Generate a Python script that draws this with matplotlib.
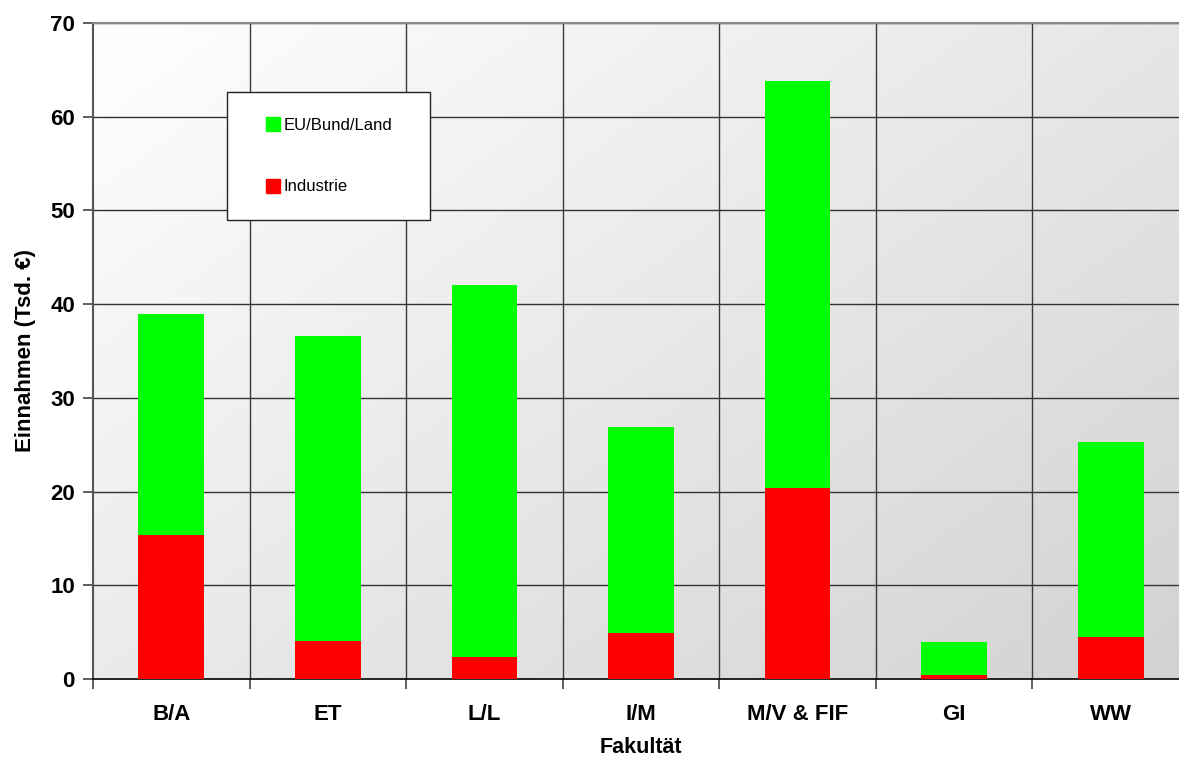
import numpy as np
import matplotlib
matplotlib.use("Agg")
import matplotlib.pyplot as plt
from matplotlib.lines import Line2D

plt.rcParams['font.family'] = ['Liberation Sans', 'DejaVu Sans']

categories = ["B/A", "ET", "L/L", "I/M", "M/V & FIF", "GI", "WW"]
industrie = [15.4, 4.0, 2.3, 4.9, 20.4, 0.4, 4.5]
eu_bund_land_total = [38.9, 36.6, 42.0, 26.9, 63.8, 3.95, 25.3]
eu_bund_land = [t - i for t, i in zip(eu_bund_land_total, industrie)]
yticks = [0, 10, 20, 30, 40, 50, 60, 70]

green = "#00ff00"
red = "#ff0000"

fig = plt.figure(figsize=(11.79, 7.60), dpi=100)
ax = fig.add_axes([0.0789, 0.1066, 1.0085 - 0.0789, 0.8632])

n = len(categories)
x = np.arange(n) + 0.5

# diagonal light-grey gradient background
gx, gy = np.meshgrid(np.linspace(0, 1, 300), np.linspace(0, 1, 200))
grad = (gx * 0.55 + gy * 0.45)
cmap = matplotlib.colors.LinearSegmentedColormap.from_list("bg", ["#ffffff", "#d2d2d2"])
ax.imshow(grad, cmap=cmap, extent=[0, n, 0, 70], origin="upper",
          aspect="auto", zorder=0, interpolation="bilinear")

ax.bar(x, industrie, width=0.42, color=red, zorder=3, label="Industrie")
ax.bar(x, eu_bund_land, width=0.42, bottom=industrie, color=green, zorder=3,
       label="EU/Bund/Land")

ax.set_xlim(0, n)
ax.set_ylim(0, 70)
ax.set_yticks(yticks)
ax.set_yticklabels([str(v) for v in yticks], fontsize=16, fontweight="bold")
ax.set_xticks(x)
ax.set_xticklabels(categories, fontsize=16, fontweight="bold")
ax.set_xticks(np.arange(n + 1), minor=True)
ax.tick_params(axis="x", which="major", length=0, pad=18)
ax.tick_params(axis="x", which="minor", length=7, width=1.2, color="#444444", direction="out")
ax.tick_params(axis="y", which="major", length=7, width=1.2, color="#444444", pad=6)

for v in yticks[1:]:
    ax.axhline(v, color="#333333", lw=1.0, zorder=1)
for b in range(1, n + 1):
    ax.axvline(b, color="#3a3a3a", lw=1.0, zorder=1)

ax.spines["right"].set_visible(False)
ax.spines["top"].set_color("#888888")
ax.spines["top"].set_linewidth(1.5)
ax.spines["left"].set_color("#555555")
ax.spines["left"].set_linewidth(1.5)
ax.spines["bottom"].set_color("#000000")
ax.spines["bottom"].set_linewidth(1.2)

ax.set_ylabel("Einnahmen (Tsd. €)", fontsize=16, fontweight="bold", labelpad=10)
ax.set_xlabel("Fakultät", fontsize=15.5, fontweight="bold", labelpad=9)

handles = [
    Line2D([], [], marker="s", linestyle="none", markersize=10,
           markerfacecolor=green, markeredgecolor=green),
    Line2D([], [], marker="s", linestyle="none", markersize=10,
           markerfacecolor=red, markeredgecolor=red),
]
leg = ax.legend(handles, ["EU/Bund/Land", "Industrie"], loc="upper left",
                bbox_to_anchor=(0.1223, 0.701, 0.1852, 0.194), mode="expand",
                borderaxespad=0, fontsize=12, frameon=True, fancybox=False,
                borderpad=1.55, labelspacing=2.8, handlelength=2.45,
                handletextpad=-0.6)
leg.get_frame().set_edgecolor("#222222")
leg.get_frame().set_linewidth(1.0)
leg.get_frame().set_facecolor("white")
leg.get_frame().set_alpha(1)
leg.set_zorder(5)

fig.savefig("out.png", dpi=100)
